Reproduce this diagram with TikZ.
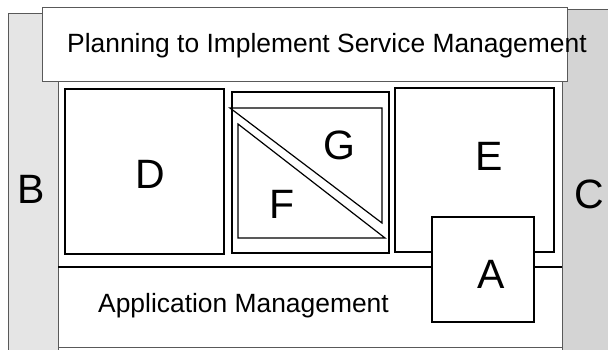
\documentclass[tikz,border=0pt]{standalone}
\usepackage{fontspec}
\setmainfont{Liberation Sans}
\begin{document}
\begin{tikzpicture}[x=1pt,y=-1pt,
  panel/.style={draw=black!65, line width=1pt, rectangle, inner sep=0pt, outer sep=0pt},
  inbox/.style={draw=black, line width=1.3pt, fill=white, rectangle, inner sep=0pt, outer sep=0pt},
  tri/.style={draw=black, line width=1.2pt, line join=miter},
  big/.style={inner sep=0pt, anchor=base, font=\fontsize{41}{45}\selectfont},
  txt/.style={inner sep=0pt, anchor=base west, font=\fontsize{26.4}{30}\selectfont}]
\useasboundingbox (0,0) rectangle (608,349);
\fill[white] (0,0) rectangle (608,349);
% side panels
\node[panel, fill=black!17, minimum width=50pt, minimum height=345pt] (Cp) at (587,181.5) {};
\node[panel, fill=black!10, minimum width=50pt, minimum height=340pt] (Bp) at (33,183) {};
% main area
\node[panel, fill=white, minimum width=504pt, minimum height=277pt] (main) at (310,208.5) {};
% title box
\node[panel, fill=white, minimum width=525pt, minimum height=74pt] (title) at (304.5,44) {};
\node[txt] (titletext) at (67,52) {Planning to Implement Service Management};
% inner boxes
\node[inbox, minimum width=159pt, minimum height=165pt] (D) at (144.5,171.5) {};
\node[inbox, minimum width=159pt, minimum height=164pt] (E) at (474.5,170) {};
\node[inbox, line width=2pt, minimum width=157pt, minimum height=161pt] (mid) at (310.5,172.5) {};
% G and F triangles
\coordinate (g1) at (230,108);
\coordinate (g2) at (382,108);
\coordinate (g3) at (382,223);
\coordinate (f1) at (238,124);
\coordinate (f2) at (238,238);
\coordinate (f3) at (385,238);
\draw[tri] (g1) -- (g2) -- (g3) -- cycle;
\draw[tri] (f1) -- (f2) -- (f3) -- cycle;
% separator line of application management
\coordinate (sepL) at (58,267);
\coordinate (sepR) at (562,267);
\draw[black, line width=1.1pt] (sepL) -- (sepR);
% A box
\node[inbox, minimum width=102pt, minimum height=105pt] (A) at (483,269.5) {};
% labels
\node[txt] (apptext) at (98,312) {Application Management};
\node[big] (Bl) at (31.5,203) {B};
\node[big] (Cl) at (589,208) {C};
\node[big] (Dl) at (150,188) {D};
\node[big] (El) at (489.5,170) {E};
\node[big] (Al) at (491.5,288) {A};
\node[big] (Fl) at (282.5,218) {F};
\node[big] (Gl) at (339.5,159.5) {G};
\end{tikzpicture}
\end{document}
